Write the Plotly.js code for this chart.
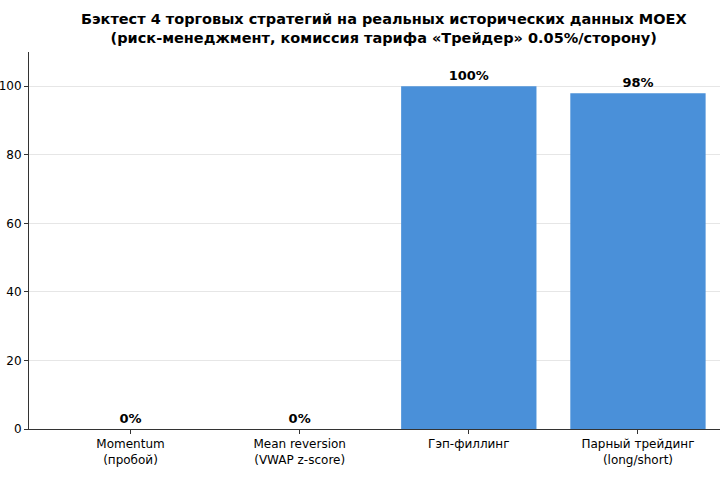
<!DOCTYPE html>
<html>
<head>
<meta charset="utf-8">
<script src="https://cdn.plot.ly/plotly-3.0.1.min.js"></script>
<style>
  html, body { margin: 0; padding: 0; background: #fff; }
  #chart { width: 720px; height: 480px; }
</style>
</head>
<body>
<div id="chart"></div>
<script>
// strategies and their result (%)
const strategies = [
    'Momentum<br>(пробой)',
    'Mean reversion<br>(VWAP z-score)',
    'Гэп-филлинг',
    'Парный трейдинг<br>(long/short)',
];
const scores = [0, 0, 100, 98];
const scoreLabels = ['0%', '0%', '100%', '98%'];
const yTicks = [0, 20, 40, 60, 80, 100];

const font = 'DejaVu Sans, sans-serif';

const bars = {
    type: 'bar',
    x: [0, 1, 2, 3],
    y: scores,
    width: 0.8,
    marker: {color: '#4a90d9'},
    text: scoreLabels,
    textposition: 'outside',
    cliponaxis: false,
    textfont: {family: font, size: 13, color: '#000', weight: 'bold'},
    hoverinfo: 'skip',
};

const layout = {
    width: 720,
    height: 480,
    paper_bgcolor: '#fff',
    plot_bgcolor: '#fff',
    showlegend: false,
    font: {family: font, size: 12, color: '#000'},
    title: {
        text: '<b>Бэктест 4 торговых стратегий на реальных исторических данных MOEX<br>(риск-менеджмент, комиссия тарифа «Трейдер» 0.05%/сторону)</b>',
        font: {family: font, size: 14.5, color: '#000'},
        x: 0.533,
        xanchor: 'center',
        y: 0.95,
        yanchor: 'top',
    },
    margin: {l: 29, r: 0, t: 52, b: 51, pad: 0},
    xaxis: {
        range: [-0.6, 3.485],
        tickvals: [0, 1, 2, 3],
        ticktext: strategies,
        ticks: 'outside',
        ticklen: 4,
        tickcolor: '#333',
        showline: true,
        linecolor: '#333',
        linewidth: 1,
        showgrid: false,
        zeroline: false,
        tickfont: {family: font, size: 12},
    },
    yaxis: {
        range: [0, 110],
        tickvals: yTicks,
        ticks: 'outside',
        ticklen: 4,
        tickcolor: '#333',
        showline: true,
        linecolor: '#333',
        linewidth: 1,
        showgrid: true,
        gridcolor: '#e6e6e6',
        zeroline: false,
        tickfont: {family: font, size: 12},
    },
};

Plotly.newPlot('chart', [bars], layout, {displayModeBar: false, staticPlot: true});
</script>
</body>
</html>
